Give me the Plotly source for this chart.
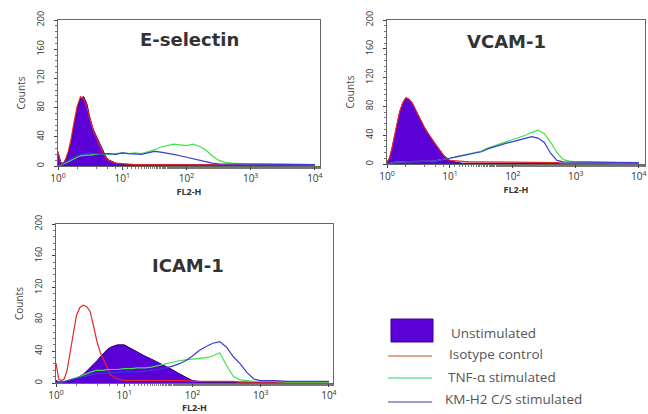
import plotly.graph_objects as go

# Shared FL2-H grid (log10 decades)
LOG_FL2H = [0, 0.04, 0.08, 0.12, 0.16, 0.2, 0.25, 0.3, 0.35, 0.4, 0.45, 0.5, 0.55, 0.6, 0.65,
            0.7, 0.75, 0.8, 0.9, 1.0, 1.1, 1.2, 1.3, 1.4, 1.5, 1.6, 1.7, 1.8, 1.9, 2.0,
            2.1, 2.2, 2.3, 2.4, 2.5, 2.6, 2.7, 2.8, 2.9, 3.0, 3.2, 3.4, 3.6, 3.8, 4.0]

SERIES = ["Unstimulated", "Isotype control", "TNF-α stimulated", "KM-H2 C/S stimulated"]

# E-selectin counts
esel_unstim = [18, 6, 3, 8, 18, 30, 55, 80, 93, 95, 85, 65, 50, 40, 30, 20, 12, 8, 4, 2,
               2, 1, 1, 1, 1, 1, 1, 1, 1, 1, 1, 1, 1, 1, 1, 1, 1, 1, 1, 1, 1, 1, 1, 1, 1]
esel_iso = [20, 5, 3, 10, 20, 35, 60, 82, 95, 92, 80, 62, 48, 38, 28, 18, 11, 7, 4, 3,
            3, 2, 2, 2, 2, 2, 2, 2, 2, 2, 1, 1, 1, 1, 1, 1, 1, 1, 1, 1, 1, 1, 1, 1, 1]
esel_tnf = [0, 1, 2, 4, 6, 8, 10, 12, 14, 15, 15, 15, 16, 16, 17, 17, 16, 16, 17, 18,
            17, 18, 17, 19, 22, 26, 28, 30, 29, 28, 30, 27, 22, 14, 8, 5, 4, 3, 3, 3, 3, 3, 2, 2, 2]
esel_kmh2 = [0, 2, 4, 6, 8, 10, 12, 14, 16, 17, 18, 18, 17, 17, 18, 18, 17, 17, 16, 18,
             17, 16, 16, 18, 20, 19, 18, 16, 14, 12, 9, 7, 5, 4, 3, 3, 3, 3, 3, 3, 3, 2, 2, 2, 2]

# VCAM-1 counts
vcam_unstim = [3, 8, 22, 38, 55, 72, 85, 92, 90, 85, 76, 67, 60, 50, 43, 36, 30, 24, 12, 4,
               2, 1, 1, 1, 1, 1, 1, 1, 1, 1, 1, 1, 1, 1, 1, 1, 1, 1, 1, 1, 1, 1, 1, 1, 1]
vcam_iso = [3, 8, 22, 38, 55, 72, 85, 92, 90, 85, 76, 67, 60, 50, 43, 36, 30, 24, 12, 5,
            4, 3, 3, 3, 3, 3, 3, 3, 3, 3, 3, 3, 3, 2, 2, 2, 2, 1, 1, 1, 1, 1, 1, 1, 1]
vcam_tnf = [0, 1, 2, 2, 3, 3, 3, 3, 3, 3, 3, 3, 3, 3, 3, 4, 4, 5, 6, 8,
            10, 12, 14, 16, 18, 22, 25, 28, 31, 33, 36, 40, 44, 47, 42, 30, 16, 6, 4, 3, 3, 2, 2, 2, 2]
vcam_kmh2 = [0, 1, 2, 2, 3, 3, 3, 3, 3, 3, 3, 3, 3, 3, 3, 4, 4, 5, 6, 8,
             10, 12, 14, 15, 17, 21, 24, 27, 29, 31, 33, 35, 38, 36, 30, 15, 5, 3, 3, 3, 2, 2, 2, 2, 2]

# ICAM-1 counts
icam_unstim = [3, 2, 2, 2, 2, 3, 4, 6, 8, 11, 15, 19, 23, 28, 33, 38, 42, 45, 48, 48,
               43, 39, 34, 30, 26, 22, 17, 12, 7, 3, 2, 1, 1, 1, 1, 1, 1, 1, 1, 1, 1, 1, 1, 1, 1]
icam_iso = [25, 5, 3, 5, 15, 35, 65, 85, 95, 98, 96, 90, 72, 52, 38, 28, 18, 10, 5, 3,
            3, 3, 3, 3, 3, 3, 3, 3, 3, 2, 2, 2, 2, 2, 2, 2, 1, 1, 1, 1, 1, 1, 1, 1, 1]
icam_tnf = [0, 1, 1, 2, 3, 4, 5, 7, 8, 10, 12, 14, 15, 16, 16, 16, 17, 17, 17, 18,
            18, 19, 19, 20, 22, 24, 26, 28, 29, 30, 31, 32, 34, 38, 22, 8, 4, 3, 2, 2, 2, 1, 1, 1, 1]
icam_kmh2 = [0, 1, 1, 2, 3, 4, 5, 6, 7, 8, 9, 10, 11, 12, 12, 12, 13, 13, 13, 14,
             14, 14, 15, 16, 17, 19, 21, 24, 28, 34, 41, 46, 50, 52, 45, 33, 24, 13, 5, 3, 3, 2, 2, 2, 2]

PANELS = [
    ("E-selectin", [esel_unstim, esel_iso, esel_tnf, esel_kmh2]),
    ("VCAM-1", [vcam_unstim, vcam_iso, vcam_tnf, vcam_kmh2]),
    ("ICAM-1", [icam_unstim, icam_iso, icam_tnf, icam_kmh2]),
]

Y_TICKS = [0, 40, 80, 120, 160, 200]
X_TICKS = [1, 10, 100, 1000, 10000]
X_TICKTEXT = ["10<sup>0</sup>", "10<sup>1</sup>", "10<sup>2</sup>", "10<sup>3</sup>", "10<sup>4</sup>"]

W, H = 648, 414
FILL = "#5c00d8"
LINE_COLORS = ["#2b0060", "#e8262a", "#3fe34a", "#3a3ad8"]

for _, arrs in PANELS:
    for a in arrs:
        assert len(a) == len(LOG_FL2H), len(a)

fl2h = [10 ** v for v in LOG_FL2H]

fig = go.Figure()

# pixel boxes (left, right, top, bottom) and log x-range max
boxes = [(58, 320, 20, 166, 4.08), (387, 645, 20, 164, 4.1), (56, 333, 224, 383, 4.06)]
title_pos = [(189, 40), (506, 41), (188, 265)]

for i, ((name, arrs), (l, r, t, b, xmax)) in enumerate(zip(PANELS, boxes)):
    xa = "x" if i == 0 else f"x{i+1}"
    ya = "y" if i == 0 else f"y{i+1}"
    for j, (sname, vals) in enumerate(zip(SERIES, arrs)):
        if j == 0:
            fig.add_trace(go.Scatter(x=fl2h, y=vals, xaxis=xa, yaxis=ya, mode="lines",
                                     fill="tozeroy", fillcolor=FILL,
                                     line=dict(color=LINE_COLORS[0], width=1),
                                     name=sname, showlegend=False))
        else:
            fig.add_trace(go.Scatter(x=fl2h, y=vals, xaxis=xa, yaxis=ya, mode="lines",
                                     line=dict(color=LINE_COLORS[j], width=1.2),
                                     name=sname, showlegend=False))
    axkey = "xaxis" if i == 0 else f"xaxis{i+1}"
    aykey = "yaxis" if i == 0 else f"yaxis{i+1}"
    fig.layout[axkey] = dict(
        type="log", domain=[l / W, r / W], range=[0, xmax], anchor=ya,
        tickvals=X_TICKS, ticktext=X_TICKTEXT, ticks="outside", ticklen=3,
        tickfont=dict(size=10, color="#333", family="Open Sans"),
        showline=True, linecolor="#666", linewidth=1, mirror=True,
        showgrid=False, zeroline=False, automargin=False,
        minor=dict(ticks="outside", ticklen=2, tickcolor="#777"),
        title=dict(text="<b>FL2-H</b>", font=dict(size=9, color="#333", family="Open Sans"), standoff=0),
    )
    fig.layout[aykey] = dict(
        domain=[1 - b / H, 1 - t / H], range=[0, 200], anchor=xa,
        tickvals=Y_TICKS, tickangle=-90, ticks="outside", ticklen=3,
        tickfont=dict(size=9, color="#333", family="Open Sans"),
        ticklabelstandoff=6,
        showline=True, linecolor="#666", linewidth=1, mirror=True,
        showgrid=False, zeroline=False, automargin=False,
        minor=dict(ticks="outside", ticklen=2, dtick=8, tickcolor="#777"),
        title=dict(text="Counts", font=dict(size=10, color="#444", family="Open Sans"), standoff=6),
    )
    tx, ty = title_pos[i]
    fig.add_annotation(x=tx / W, y=1 - ty / H, xref="paper", yref="paper", text=f"<b>{name}</b>",
                       xanchor="center", yanchor="middle", showarrow=False,
                       font=dict(size=18, color="#333", family="DejaVu Sans"))

# Legend drawn manually
fig.add_shape(type="rect", xref="paper", yref="paper", x0=391 / W, x1=433 / W,
              y0=1 - 342 / H, y1=1 - 319 / H, fillcolor=FILL, line=dict(color="#3a0090", width=1))
leg_lines = [(356, "#e0866a"), (378, "#6fe0a0"), (402, "#7a7ac8")]
for (yy, col) in leg_lines:
    fig.add_shape(type="line", xref="paper", yref="paper", x0=388 / W, x1=432 / W,
                  y0=1 - yy / H, y1=1 - yy / H, line=dict(color=col, width=1.5))
leg_text = [(449, 333), (447, 354), (446, 377), (443, 399)]
for (lx, ly), s in zip(leg_text, SERIES):
    fig.add_annotation(x=lx / W, y=1 - ly / H, xref="paper", yref="paper", text=s,
                       xanchor="left", yanchor="middle", showarrow=False,
                       font=dict(size=13.5, color="#555", family="Open Sans"))

fig.update_layout(width=W, height=H, margin=dict(l=0, r=0, t=0, b=0, autoexpand=False),
                  paper_bgcolor="white", plot_bgcolor="white", showlegend=False)

fig.write_html("out.html")
